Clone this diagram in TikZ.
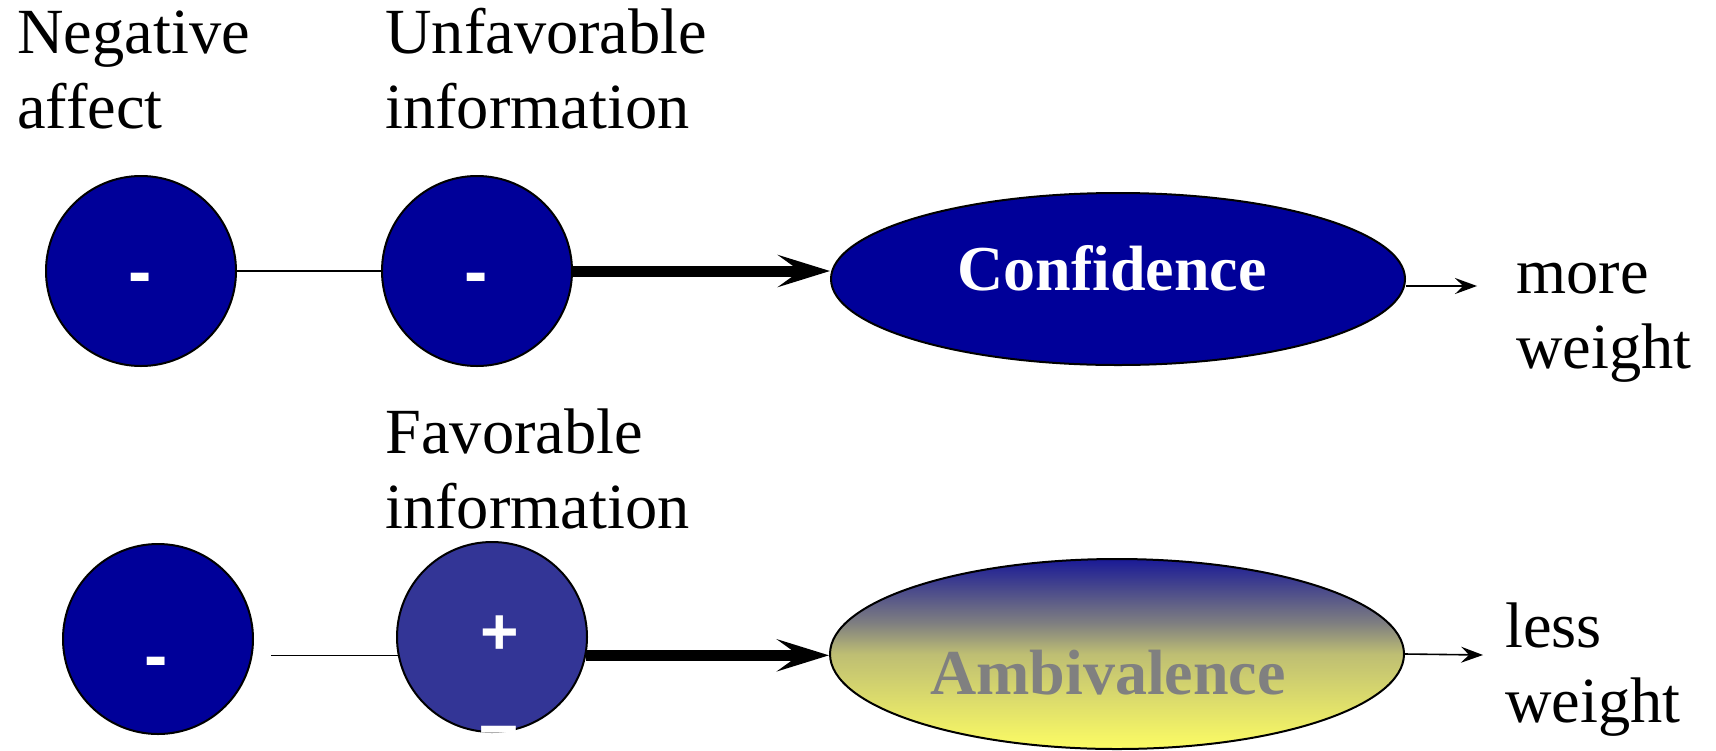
\documentclass[tikz,border=0pt]{standalone}
\usepackage{fontspec}
\setmainfont{Liberation Serif}
\newfontfamily\signfont{Liberation Sans}
\usetikzlibrary{shapes.geometric,arrows.meta,calc}
\definecolor{navy}{RGB}{0,0,153}
\definecolor{lightnavy}{RGB}{51,53,150}
\definecolor{ambblue}{RGB}{26,26,150}
\definecolor{ambgray}{RGB}{128,128,128}
\definecolor{ambtan}{RGB}{190,190,115}
\definecolor{ambyellow}{RGB}{252,252,100}
\pgfdeclareverticalshading{ambshade}{100bp}{color(0bp)=(ambyellow); color(25bp)=(ambyellow); color(50bp)=(ambtan); color(58bp)=(ambgray); color(75bp)=(ambblue); color(100bp)=(ambblue)}
\begin{document}
\begin{tikzpicture}[x=0.5pt,y=-0.5pt,
  lbl/.style={font=\fontsize{32.2}{37.5}\selectfont, align=left, anchor=base west, inner sep=0pt},
  bubble/.style={circle, draw=black, line width=1pt, minimum size=95pt, inner sep=0pt, fill=navy},
  oval/.style={ellipse, draw=black, line width=1pt, inner sep=0pt},
  bigword/.style={font=\bfseries\fontsize{32}{37.5}\selectfont, anchor=base, inner sep=0pt},
  sign/.style={font=\signfont\bfseries\fontsize{35}{35}\selectfont, text=white, inner sep=0pt, anchor=base},
  link/.style={line width=0.8pt},
  bigarrow/.style={line width=5.5pt, -{Stealth[length=26pt,width=16pt,inset=11pt]}},
  smallarrow/.style={line width=0.8pt, -{Stealth[length=11pt,width=8pt,inset=4pt]}}]
\useasboundingbox (0,0) rectangle (1716,750);
% row 1
\node[bubble] (c1) at (141,271) {};
\node[bubble] (c2) at (477,271) {};
\node[oval, fill=navy, minimum width=287pt, minimum height=86pt] (conf) at (1118,279) {};
\node[bigword, text=white] (conftext) at (1112,290) {Confidence};
\node[sign] (s1) at (140,295) {-};
\node[sign] (s2) at (476,295) {-};
% row 2
\node[bubble] (c3) at (158,639) {};
\node[bubble, fill=lightnavy] (c4) at (492,637) {};
\node[oval, shade, shading=ambshade, minimum width=287pt, minimum height=95pt] (amb) at (1117,654) {};
\node[bigword, text=ambgray] (ambtext) at (1108,694) {Ambivalence};
\node[sign] (s3) at (156,679) {-};
\node[sign, font=\signfont\bfseries\fontsize{33}{33}\selectfont] (s4) at (500,654) {+};
\node[sign, font=\signfont\bfseries\fontsize{35}{35}\selectfont, text depth=0pt] (s5) at (499,748) {–};
% labels (anchored at the baseline of the last line)
\node[lbl] (neg) at (17,128) {Negative\\affect};
\node[lbl] (unfav) at (385,128) {Unfavorable\\information};
\node[lbl] (fav) at (385,528) {Favorable\\information};
\node[lbl] (more) at (1516,368) {more\\weight};
\node[lbl] (less) at (1505,722) {less\\weight};
% connectors
\draw[link] (c1.east) -- (c2.west);
\draw[bigarrow] (c2.east) -- (c2.east -| conf.west);
\coordinate (moretip) at (1477,286);
\draw[smallarrow] (conf.east |- moretip) -- (moretip);
\draw[link] ($(c3.east |- c4.191)+(17,0)$) -- (c4.191);
\draw[bigarrow] (c4.-11) -- (c4.-11 -| amb.west);
\coordinate (lesstip) at (1483,655);
\draw[smallarrow] (amb.east) -- (lesstip);
\end{tikzpicture}
\end{document}
